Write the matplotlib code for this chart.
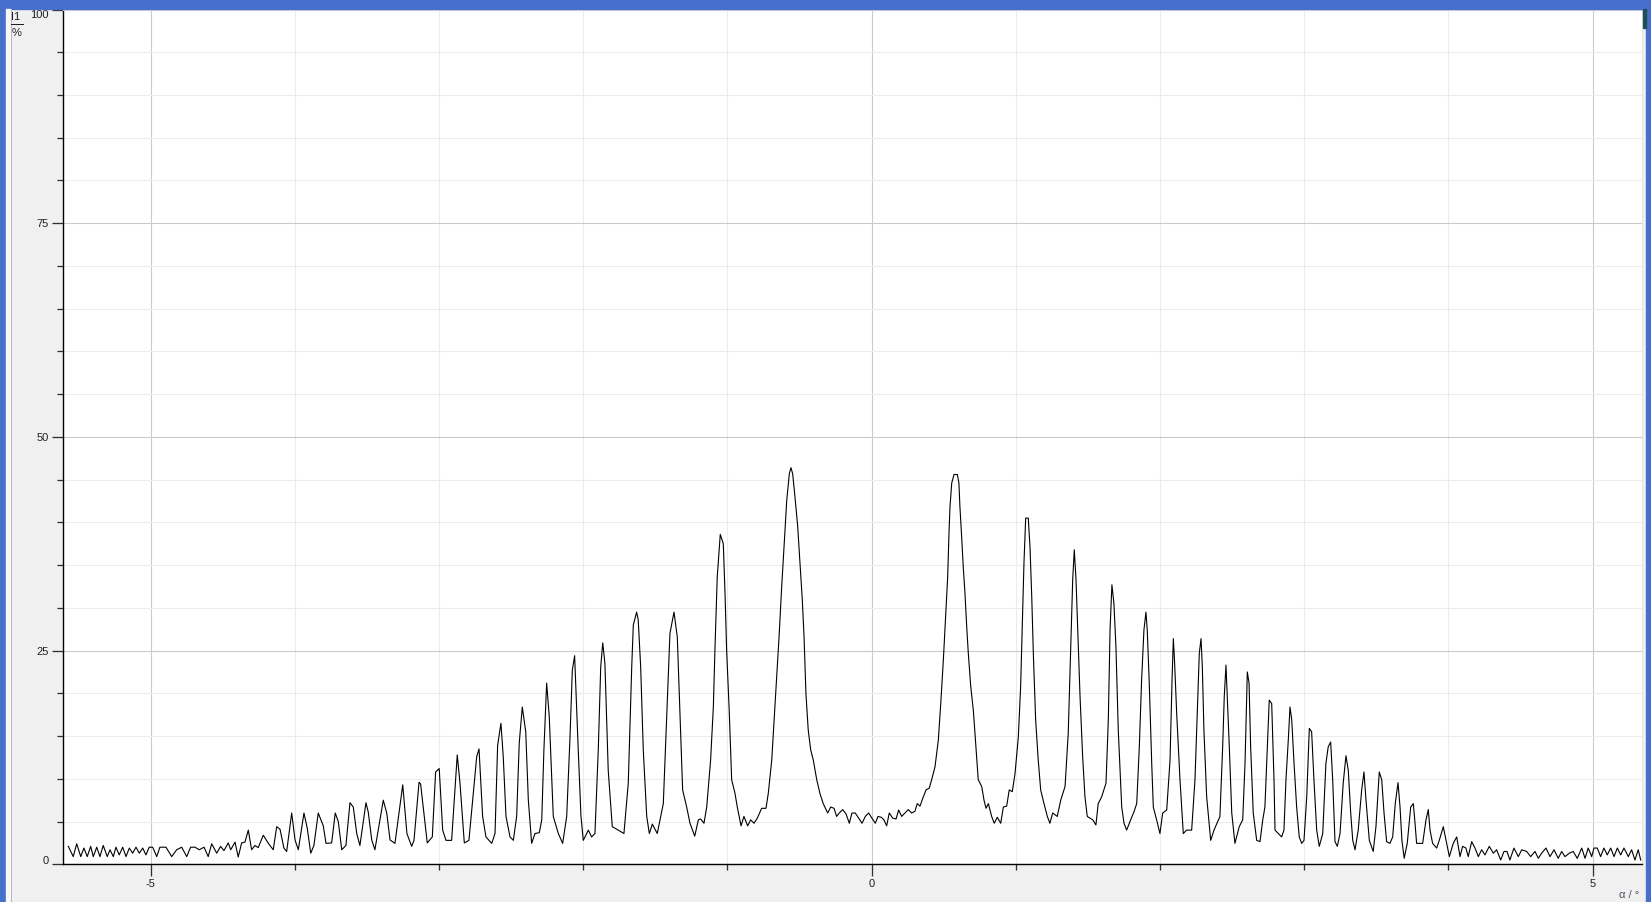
import matplotlib
matplotlib.use("Agg")
import matplotlib.pyplot as plt
from matplotlib.patches import Rectangle
from matplotlib.lines import Line2D
from matplotlib.ticker import FixedLocator, MultipleLocator

# intensity I1 (%) against angle alpha (deg)
tail_left = [
    (-5.571, 2.1), (-5.537, 0.9), (-5.513, 2.4), (-5.485, 0.9), (-5.463, 1.9),
    (-5.440, 0.9), (-5.416, 2.1), (-5.398, 0.9), (-5.374, 2.0), (-5.352, 0.9),
    (-5.329, 2.2), (-5.301, 0.9), (-5.282, 1.7), (-5.259, 0.9), (-5.241, 2.0),
    (-5.218, 1.1), (-5.194, 2.0), (-5.171, 0.9), (-5.148, 1.9), (-5.125, 1.3),
    (-5.102, 2.0), (-5.079, 1.3), (-5.055, 1.9), (-5.033, 1.1), (-5.010, 2.0),
    (-4.986, 2.0), (-4.958, 0.9), (-4.936, 2.0), (-4.894, 2.0), (-4.854, 0.9),
    (-4.820, 1.7), (-4.785, 2.0), (-4.750, 0.9), (-4.723, 2.0), (-4.693, 2.0),
    (-4.663, 1.7), (-4.630, 2.0), (-4.601, 0.9), (-4.577, 2.4), (-4.542, 1.3),
    (-4.515, 2.1), (-4.492, 1.6), (-4.462, 2.5), (-4.445, 1.7), (-4.415, 2.6),
    (-4.393, 0.85), (-4.369, 2.5), (-4.346, 2.6),
]

fringes_left = [
    (-4.323, 4.0), (-4.300, 1.7), (-4.277, 2.2), (-4.254, 1.95), (-4.219, 3.4),
    (-4.184, 2.45), (-4.150, 1.7), (-4.126, 4.4), (-4.103, 4.1), (-4.076, 1.9),
    (-4.057, 1.5), (-4.022, 6.0), (-3.999, 2.85), (-3.976, 1.7), (-3.937, 6.0),
    (-3.914, 4.2), (-3.890, 1.3), (-3.868, 2.2), (-3.838, 6.0), (-3.803, 4.5),
    (-3.784, 2.45), (-3.745, 2.5), (-3.720, 6.0), (-3.699, 5.0), (-3.675, 1.7),
    (-3.646, 2.2), (-3.618, 7.2), (-3.595, 6.7), (-3.571, 3.6), (-3.549, 2.2),
    (-3.507, 7.2), (-3.491, 6.1), (-3.467, 2.85), (-3.445, 1.7), (-3.387, 7.5),
    (-3.363, 6.0), (-3.340, 2.85), (-3.306, 2.45), (-3.252, 9.3), (-3.223, 3.6),
    (-3.190, 2.1), (-3.174, 2.8), (-3.139, 9.6), (-3.128, 9.4), (-3.082, 2.5),
    (-3.047, 3.2), (-3.024, 10.8), (-2.999, 11.2), (-2.975, 4.0), (-2.952, 2.8),
    (-2.913, 2.8), (-2.874, 12.8), (-2.855, 9.5), (-2.825, 2.5), (-2.793, 2.8),
    (-2.739, 12.6), (-2.723, 13.5), (-2.698, 5.6), (-2.675, 3.2), (-2.635, 2.45),
    (-2.612, 3.6), (-2.594, 13.9), (-2.571, 16.5), (-2.555, 12.6), (-2.536, 5.6),
    (-2.508, 3.2), (-2.485, 2.8), (-2.462, 5.6), (-2.444, 14.2), (-2.423, 18.4),
    (-2.399, 15.5), (-2.381, 7.5), (-2.358, 2.45), (-2.335, 3.6), (-2.305, 3.7),
    (-2.288, 5.2), (-2.273, 13.4), (-2.254, 21.2), (-2.236, 17.3), (-2.208, 5.6),
    (-2.173, 3.6), (-2.143, 2.45), (-2.115, 5.6), (-2.092, 14.9), (-2.076, 22.7),
    (-2.060, 24.4), (-2.035, 13.4), (-2.016, 5.6), (-2.000, 2.8), (-1.965, 4.0),
    (-1.942, 3.2), (-1.919, 3.6), (-1.896, 13.4), (-1.879, 23.1), (-1.865, 25.9),
    (-1.850, 23.5), (-1.827, 11.0), (-1.799, 4.4), (-1.768, 4.1), (-1.718, 3.6),
    (-1.688, 9.5), (-1.664, 23.1), (-1.653, 28.0), (-1.630, 29.5), (-1.619, 28.6),
    (-1.602, 23.1), (-1.584, 13.4), (-1.560, 5.6), (-1.542, 3.6), (-1.521, 4.7),
    (-1.487, 3.6), (-1.445, 7.1), (-1.417, 19.2), (-1.399, 27.0), (-1.371, 29.5),
    (-1.348, 26.6), (-1.329, 17.3), (-1.311, 8.7), (-1.283, 6.7), (-1.260, 4.8),
    (-1.227, 3.3), (-1.202, 5.2), (-1.186, 5.3),
]

centre = [
    (-1.163, 4.8), (-1.144, 6.7), (-1.117, 12.2), (-1.098, 18.4), (-1.087, 25.1),
    (-1.071, 33.6), (-1.050, 38.6), (-1.029, 37.5), (-1.017, 31.7), (-1.006, 25.1),
    (-0.988, 18.0), (-0.971, 9.9), (-0.948, 8.3), (-0.932, 6.7), (-0.906, 4.5),
    (-0.886, 5.6), (-0.860, 4.5), (-0.839, 5.2), (-0.816, 4.8), (-0.793, 5.4),
    (-0.763, 6.55), (-0.733, 6.55), (-0.717, 8.3), (-0.693, 12.2), (-0.671, 18.4),
    (-0.652, 23.9), (-0.641, 27.0), (-0.624, 32.5), (-0.613, 35.6), (-0.601, 39.1),
    (-0.589, 42.6), (-0.571, 45.7), (-0.560, 46.4), (-0.548, 45.7), (-0.532, 43.0),
    (-0.513, 39.5), (-0.497, 35.2), (-0.481, 30.9), (-0.469, 26.6), (-0.456, 20.0),
    (-0.440, 15.7), (-0.423, 13.4), (-0.405, 12.2), (-0.381, 9.9), (-0.359, 8.3),
    (-0.336, 7.1), (-0.305, 6.0), (-0.284, 6.7), (-0.261, 6.55), (-0.243, 5.6),
    (-0.225, 6.0), (-0.201, 6.4), (-0.178, 5.9), (-0.155, 4.8), (-0.137, 6.0),
    (-0.114, 6.0), (-0.090, 5.4), (-0.067, 4.8), (-0.044, 5.6), (-0.021, 6.0),
    (0.002, 5.4), (0.025, 4.8), (0.044, 5.6), (0.067, 5.5), (0.085, 5.2),
    (0.104, 4.5), (0.122, 6.0), (0.146, 5.4), (0.169, 5.3), (0.187, 6.35),
    (0.208, 5.6), (0.231, 6.0), (0.254, 6.4), (0.277, 6.0), (0.300, 6.2),
    (0.316, 7.1), (0.335, 6.8), (0.354, 7.7), (0.377, 8.7), (0.399, 8.9),
    (0.416, 9.9), (0.439, 11.4), (0.462, 14.5), (0.479, 18.8), (0.497, 23.9),
    (0.513, 29.0), (0.527, 33.6), (0.536, 38.7), (0.543, 41.8), (0.555, 44.6),
    (0.571, 45.6), (0.594, 45.6), (0.605, 44.6), (0.612, 41.8), (0.624, 38.3),
    (0.635, 34.8), (0.647, 31.7), (0.659, 27.8), (0.670, 24.7), (0.687, 20.8),
    (0.705, 18.0), (0.718, 14.9), (0.739, 9.9), (0.763, 9.1), (0.779, 7.5),
    (0.793, 6.55), (0.809, 7.1), (0.832, 5.6), (0.850, 4.8), (0.871, 5.5),
    (0.895, 4.8), (0.913, 6.7), (0.936, 6.8), (0.954, 8.7), (0.975, 8.5),
    (0.994, 10.6),
]

fringes_right = [
    (1.017, 14.9), (1.033, 20.8), (1.047, 29.4), (1.056, 35.2), (1.068, 40.5),
    (1.086, 40.5), (1.098, 37.1), (1.110, 31.3), (1.121, 24.7), (1.137, 16.9),
    (1.155, 12.2), (1.172, 8.7), (1.195, 7.1), (1.218, 5.6), (1.236, 4.8),
    (1.255, 6.0), (1.271, 5.8), (1.287, 5.6), (1.311, 7.5), (1.341, 9.1),
    (1.363, 15.3), (1.380, 25.4), (1.394, 33.3), (1.405, 36.8), (1.417, 33.3),
    (1.433, 25.4), (1.445, 19.6), (1.463, 12.6), (1.479, 7.9), (1.495, 5.6),
    (1.533, 5.2), (1.555, 4.6), (1.571, 7.1), (1.595, 7.9), (1.625, 9.5),
    (1.641, 16.9), (1.653, 27.4), (1.666, 32.7), (1.680, 30.5), (1.694, 25.4),
    (1.710, 15.7), (1.734, 6.7), (1.750, 4.8), (1.768, 4.0), (1.796, 5.2),
    (1.819, 6.15), (1.838, 7.1), (1.856, 13.75), (1.872, 21.6), (1.888, 27.4),
    (1.902, 29.5), (1.911, 27.4), (1.925, 21.2), (1.942, 11.8), (1.953, 6.7),
    (1.976, 5.2), (1.999, 3.6), (2.018, 6.0), (2.046, 6.35), (2.069, 12.2),
    (2.083, 21.6), (2.092, 26.4), (2.101, 23.5), (2.115, 17.7), (2.138, 9.9),
    (2.161, 3.6), (2.184, 4.0), (2.219, 4.0), (2.242, 9.9), (2.258, 17.7),
    (2.272, 24.7), (2.284, 26.4), (2.293, 23.1), (2.304, 15.7), (2.323, 7.9),
    (2.351, 2.8), (2.374, 4.0), (2.415, 5.6), (2.434, 13.75), (2.445, 19.6),
    (2.457, 23.3), (2.466, 19.6), (2.480, 13.75), (2.497, 6.0), (2.519, 2.45),
    (2.549, 4.4), (2.573, 5.2), (2.589, 11.8), (2.605, 22.5), (2.617, 21.2),
    (2.628, 13.75), (2.646, 6.0), (2.670, 2.8), (2.693, 2.65), (2.712, 5.2),
    (2.727, 6.7), (2.739, 11.8), (2.757, 19.2), (2.774, 18.8), (2.790, 9.9),
    (2.797, 4.0), (2.820, 3.6), (2.843, 3.2), (2.859, 4.0), (2.873, 9.9),
    (2.889, 14.5), (2.901, 18.4), (2.913, 16.9), (2.929, 11.8), (2.947, 6.7),
    (2.965, 3.2), (2.982, 2.45), (2.998, 2.8), (3.017, 7.9), (3.035, 15.9),
    (3.051, 15.5), (3.067, 9.9), (3.086, 4.0), (3.104, 2.1), (3.128, 3.6),
    (3.150, 11.8), (3.166, 13.75), (3.183, 14.3), (3.197, 9.9), (3.213, 2.65),
    (3.229, 2.1), (3.248, 3.6), (3.270, 9.5), (3.289, 12.7), (3.305, 11.0),
    (3.322, 6.0), (3.336, 2.8), (3.352, 1.7), (3.374, 4.0), (3.398, 8.7),
    (3.414, 10.8), (3.428, 7.5), (3.451, 2.8), (3.478, 1.5), (3.497, 4.4),
    (3.520, 10.8), (3.537, 9.9), (3.553, 6.0), (3.571, 2.65), (3.594, 2.45),
    (3.613, 3.2), (3.631, 7.1), (3.650, 9.55), (3.664, 6.7), (3.677, 2.8),
    (3.693, 0.7), (3.714, 2.45), (3.738, 6.7), (3.756, 7.1), (3.768, 4.8),
    (3.779, 2.45), (3.802, 2.45), (3.821, 2.45), (3.844, 5.2), (3.860, 6.4),
    (3.872, 4.0), (3.890, 2.45), (3.918, 1.9), (3.936, 2.8), (3.964, 4.4),
    (3.983, 2.8),
]

tail_right = [
    (4.006, 0.9), (4.033, 2.45), (4.057, 3.2), (4.080, 0.9), (4.098, 2.1),
    (4.121, 1.9), (4.137, 0.9), (4.161, 2.65), (4.184, 1.9), (4.207, 0.9),
    (4.230, 1.7), (4.253, 1.1), (4.283, 2.1), (4.311, 1.3), (4.334, 1.7),
    (4.362, 0.5), (4.385, 1.5), (4.406, 1.5), (4.426, 0.5), (4.454, 1.9),
    (4.484, 0.9), (4.508, 1.7), (4.542, 1.5), (4.570, 0.9), (4.600, 1.5),
    (4.623, 0.7), (4.646, 1.3), (4.676, 1.9), (4.704, 0.9), (4.732, 1.7),
    (4.761, 0.7), (4.785, 1.5), (4.808, 0.9), (4.838, 1.3), (4.865, 1.5),
    (4.893, 0.7), (4.924, 1.9), (4.947, 0.7), (4.969, 1.9), (4.993, 0.9),
    (5.009, 1.9), (5.032, 1.9), (5.055, 0.9), (5.078, 1.9), (5.101, 1.1),
    (5.125, 1.9), (5.148, 0.9), (5.171, 1.9), (5.194, 1.1), (5.217, 1.9),
    (5.247, 0.9), (5.270, 1.7), (5.293, 0.5), (5.316, 1.7), (5.333, 0.5),
]

x_major = [-5, 0, 5]
y_major = [0, 25, 50, 75, 100]

points = tail_left + fringes_left + centre + fringes_right + tail_right
alpha = [p[0] for p in points]
intensity = [p[1] for p in points]

W, H = 1651, 902
PX = 72 / 100  # one pixel in points at dpi 100
fig = plt.figure(figsize=(W / 100, H / 100), dpi=100, facecolor='#f0f0f0')

# window frame
blue = '#4670cc'
fig.patches.append(Rectangle((0, 0), 6 / W, 1, transform=fig.transFigure, color=blue, zorder=0))
fig.patches.append(Rectangle((0, 1 - 9 / H), 1, 9 / H, transform=fig.transFigure, color=blue, zorder=0))
fig.patches.append(Rectangle((1646 / W, 0), 5 / W, 1, transform=fig.transFigure, color=blue, zorder=0))
fig.patches.append(Rectangle((1642.5 / W, 1 - 28 / H), 3.5 / W, 19 / H, transform=fig.transFigure,
                             color='#1e4e55', zorder=1))
fig.patches.append(Rectangle((6 / W, 0), 4 / W, 1 - 9 / H, transform=fig.transFigure,
                             color='#f8f8f8', zorder=0))
fig.lines.append(Line2D([10.5 / W, 10.5 / W], [0, 1 - 9 / H], transform=fig.transFigure,
                        color='#b8b8b8', lw=PX))

ax = fig.add_axes([63 / W, (H - 864.3) / H, 1579 / W, 854.8 / H])
ax.set_facecolor('white')
ax.plot(alpha, intensity, color='black', lw=0.8, zorder=3)
ax.set_xlim(-5.608, 5.342)
ax.set_ylim(0, 100)

ax.xaxis.set_major_locator(FixedLocator(x_major))
ax.xaxis.set_minor_locator(MultipleLocator(1))
ax.yaxis.set_major_locator(FixedLocator(y_major))
ax.yaxis.set_minor_locator(MultipleLocator(5))
ax.set_xticklabels([str(v) for v in x_major])
ax.set_yticklabels([str(v) for v in y_major])

ax.grid(True, which='major', color='#cacaca', lw=1.1 * PX)
ax.grid(True, which='minor', color='#ececec', lw=1.1 * PX)
ax.set_axisbelow(True)

for side in ['left', 'bottom']:
    ax.spines[side].set_color('black')
    ax.spines[side].set_linewidth(1.4 * PX)
ax.spines['top'].set_color('#dddddd')
ax.spines['right'].set_color('#e6e6e6')

ax.tick_params(axis='both', which='both', color='#303030', width=1.3 * PX,
               labelsize=8, labelcolor='#202020')
ax.tick_params(axis='y', which='major', length=11 * PX, pad=3 * PX)
ax.tick_params(axis='y', which='minor', length=6 * PX)
ax.tick_params(axis='x', which='major', length=12 * PX, pad=2.5 * PX)
ax.tick_params(axis='x', which='minor', length=6 * PX)
for lab in ax.get_xticklabels() + ax.get_yticklabels():
    lab.set_family(['Liberation Sans', 'DejaVu Sans'])

yt = ax.yaxis.get_major_ticks()
yt[0].label1.set_verticalalignment('baseline')
yt[-1].label1.set_verticalalignment('top')

# axis captions
font = ['Liberation Sans', 'DejaVu Sans']
fig.text(16 / W, 1 - 16.5 / H, 'I1', ha='center', va='center', fontsize=8, family=font, color='#202020')
fig.lines.append(Line2D([11 / W, 22.5 / W], [1 - 24 / H, 1 - 24 / H], transform=fig.transFigure,
                        color='#202020', lw=PX))
fig.text(17 / W, 1 - 33 / H, '%', ha='center', va='center', fontsize=8, family=font, color='#202020')
fig.text(1639 / W, 1 - 895 / H, 'α / °', ha='right', va='center', fontsize=8, family=font,
         color='#505060')

fig.savefig('out.png', dpi=100, facecolor=fig.get_facecolor())
